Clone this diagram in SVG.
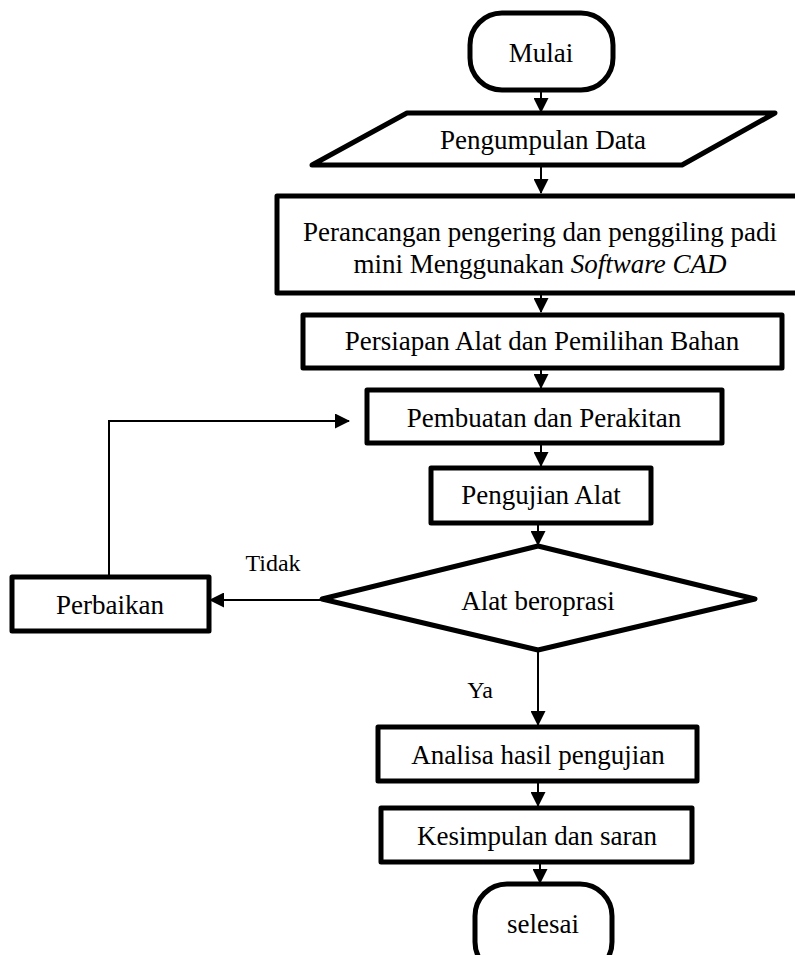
<svg xmlns="http://www.w3.org/2000/svg" width="795" height="955" viewBox="0 0 795 955">
<defs>
<style>
.n{fill:#fff;stroke:#000;stroke-width:5;stroke-linejoin:round}
.t{font-family:"Liberation Serif","Times New Roman",serif;font-size:27px;fill:#000;text-anchor:middle}
.c{fill:none;stroke:#000;stroke-width:2}
</style>
<marker id="ah" markerWidth="15" markerHeight="15" refX="14" refY="7.5" orient="auto" markerUnits="userSpaceOnUse">
<path d="M0,0 L15,7.5 L0,15 Z" fill="#000"/>
</marker>
</defs>
<rect width="795" height="955" fill="#fff"/>
<g id="connectors">
<line class="c" x1="541" y1="91" x2="541" y2="112" marker-end="url(#ah)"/>
<line class="c" x1="541" y1="167" x2="541" y2="193" marker-end="url(#ah)"/>
<line class="c" x1="541" y1="295" x2="541" y2="312" marker-end="url(#ah)"/>
<line class="c" x1="541" y1="369" x2="541" y2="388" marker-end="url(#ah)"/>
<line class="c" x1="541" y1="444" x2="541" y2="466" marker-end="url(#ah)"/>
<line class="c" x1="538" y1="524" x2="538" y2="545" marker-end="url(#ah)"/>
<line class="c" x1="538" y1="651" x2="538" y2="725" marker-end="url(#ah)"/>
<line class="c" x1="322" y1="600" x2="210" y2="600" marker-end="url(#ah)"/>
<polyline class="c" points="109,577 109,421 349,421" marker-end="url(#ah)"/>
<line class="c" x1="538" y1="782" x2="538" y2="806" marker-end="url(#ah)"/>
<line class="c" x1="540" y1="863" x2="540" y2="883" marker-end="url(#ah)"/>
<text class="t" x="273" y="571" style="font-size:24px">Tidak</text>
<text class="t" x="480" y="698" style="font-size:24px">Ya</text>
</g>
<g id="mulai">
<rect class="n" x="470" y="13" width="143" height="77" rx="32" ry="32"/>
<text class="t" x="541" y="62">Mulai</text>
</g>
<g id="pengumpulan">
<polygon class="n" points="407,113 775,113 682,165 312,165"/>
<text class="t" x="543" y="149">Pengumpulan Data</text>
</g>
<g id="perancangan">
<rect class="n" x="277" y="196" width="523" height="97"/>
<text class="t" x="540" y="241">Perancangan pengering dan penggiling padi</text>
<text class="t" x="540" y="273">mini Menggunakan <tspan font-style="italic">Software CAD</tspan></text>
</g>
<g id="persiapan">
<rect class="n" x="303" y="315" width="479" height="53"/>
<text class="t" x="542" y="350">Persiapan Alat dan Pemilihan Bahan</text>
</g>
<g id="pembuatan">
<rect class="n" x="367" y="390" width="355" height="53"/>
<text class="t" x="544" y="427">Pembuatan dan Perakitan</text>
</g>
<g id="pengujian">
<rect class="n" x="431" y="468" width="220" height="55"/>
<text class="t" x="541" y="504">Pengujian Alat</text>
</g>
<g id="keputusan">
<polygon class="n" points="538,546 755,599 538,650 322,599"/>
<text class="t" x="538" y="610">Alat beroprasi</text>
</g>
<g id="perbaikan">
<rect class="n" x="12" y="577" width="197" height="54"/>
<text class="t" x="110" y="614">Perbaikan</text>
</g>
<g id="analisa">
<rect class="n" x="378" y="727" width="319" height="54"/>
<text class="t" x="538" y="764">Analisa hasil pengujian</text>
</g>
<g id="kesimpulan">
<rect class="n" x="381" y="808" width="311" height="54"/>
<text class="t" x="537" y="845">Kesimpulan dan saran</text>
</g>
<g id="selesai">
<rect class="n" x="475" y="884" width="137" height="90" rx="32" ry="32"/>
<text class="t" x="543" y="933">selesai</text>
</g>
</svg>
